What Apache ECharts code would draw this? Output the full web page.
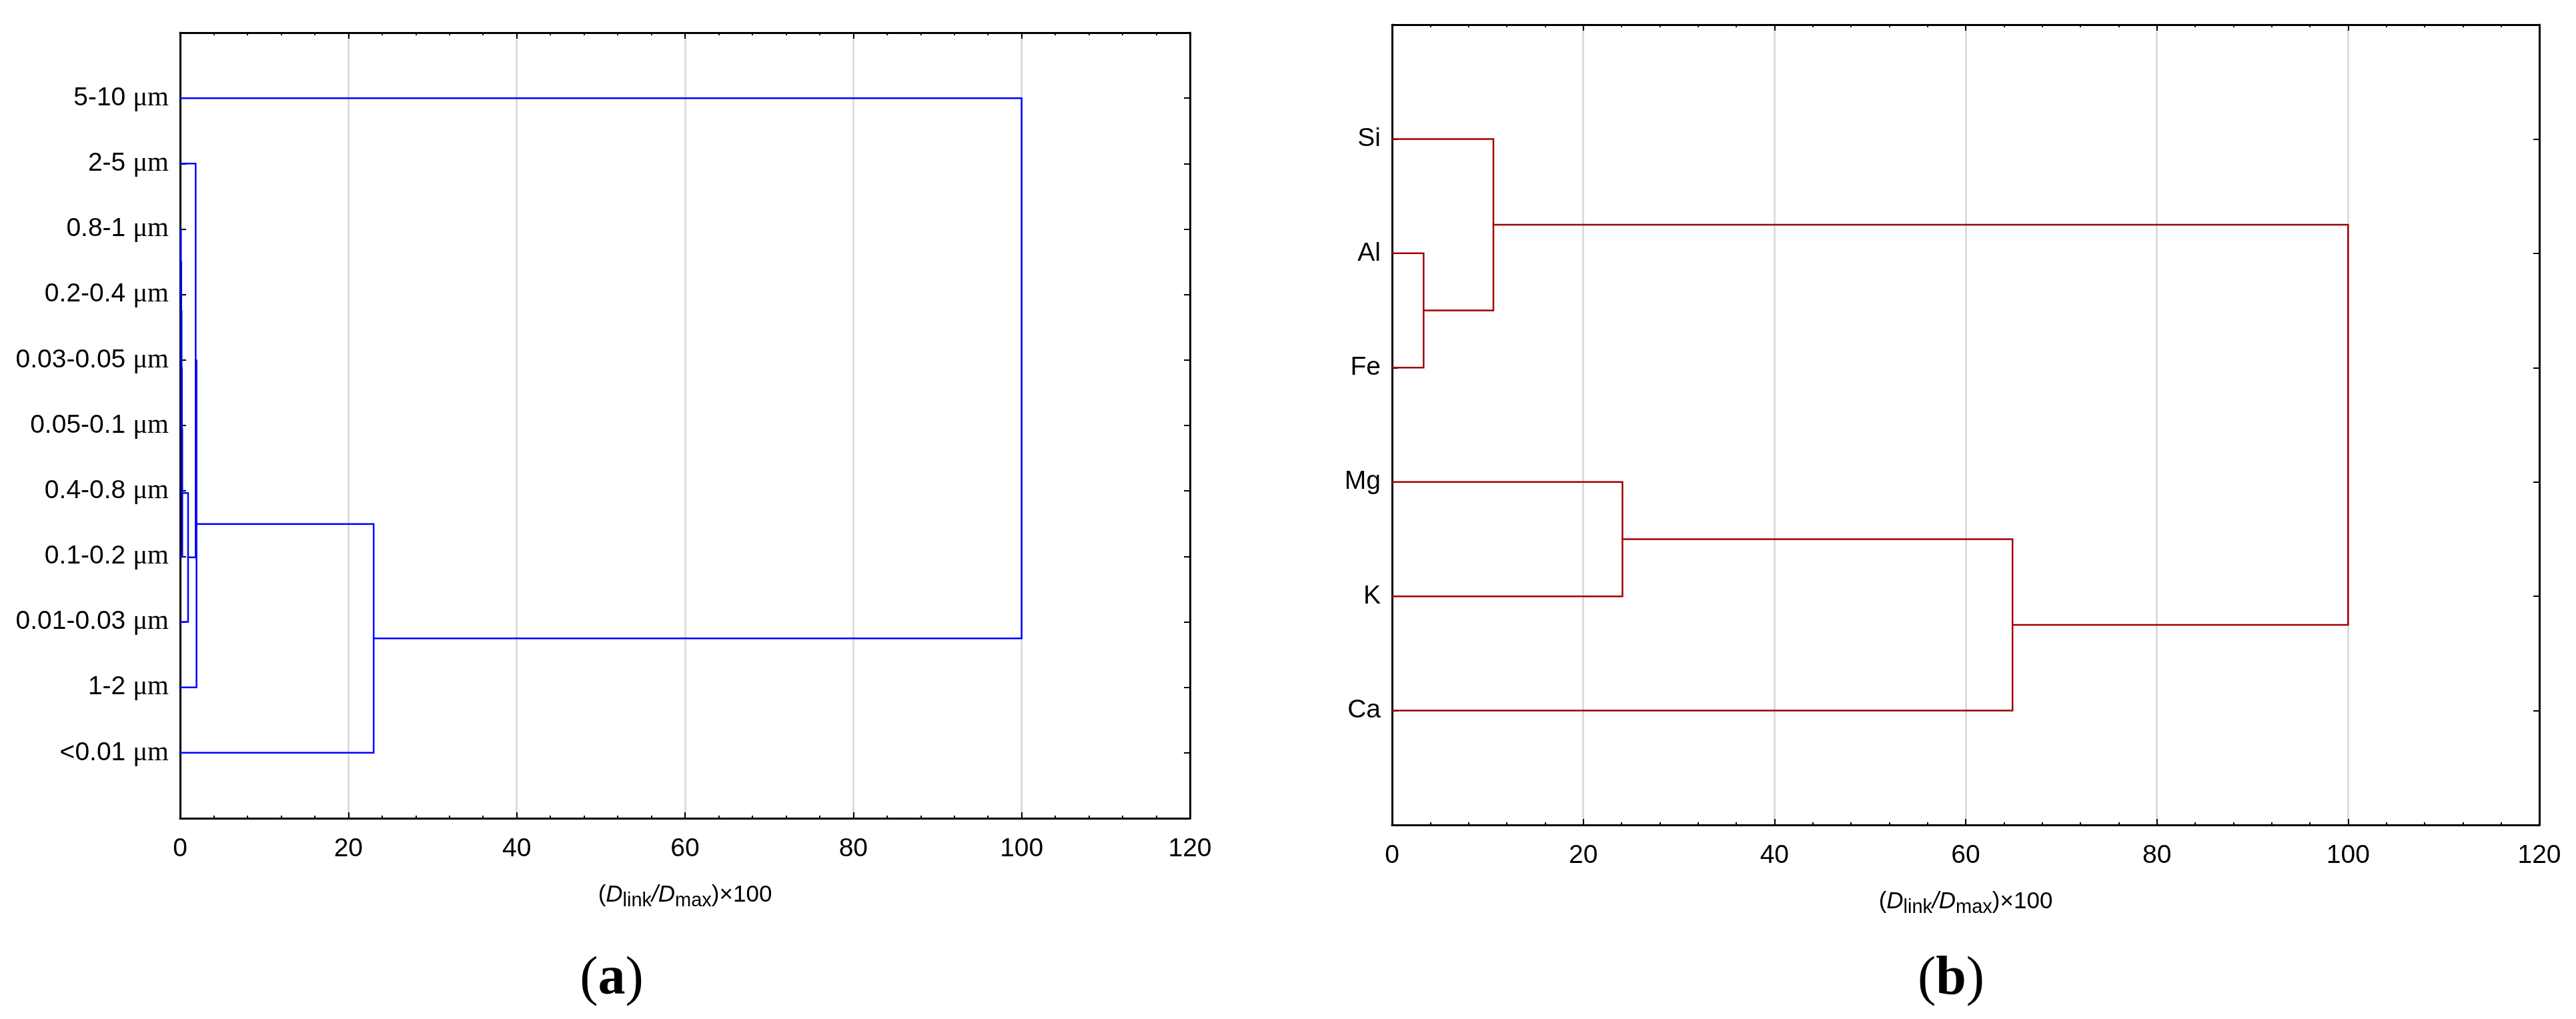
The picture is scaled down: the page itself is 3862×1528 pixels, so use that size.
<!DOCTYPE html>
<html>
<head>
<meta charset="utf-8">
<script src="https://cdn.jsdelivr.net/npm/echarts@6/dist/echarts.min.js"></script>
<style>
html,body{margin:0;padding:0;background:#fff;}
#c{width:3862px;height:1528px;}
</style>
</head>
<body>
<div id="c"></div>
<script>
// ---------- DATA ----------
// Panel (a): leaves from top to bottom
const catsA = ['5-10 μm','2-5 μm','0.8-1 μm','0.2-0.4 μm','0.03-0.05 μm','0.05-0.1 μm','0.4-0.8 μm','0.1-0.2 μm','0.01-0.03 μm','1-2 μm','<0.01 μm'];
// merges: [child, child, linkage distance]; '#k' refers to k-th merge
const mergesA = [
  ['0.8-1 μm', '0.2-0.4 μm', 0.10],
  ['#0', '0.03-0.05 μm', 0.14],
  ['#1', '0.05-0.1 μm', 0.18],
  ['#2', '0.4-0.8 μm', 0.22],
  ['#3', '0.1-0.2 μm', 0.26],
  ['#4', '0.01-0.03 μm', 0.95],
  ['2-5 μm', '#5', 1.85],
  ['#6', '1-2 μm', 1.95],
  ['#7', '<0.01 μm', 23.0],
  ['5-10 μm', '#8', 100.0]
];
// Panel (b)
const catsB = ['Si','Al','Fe','Mg','K','Ca'];
const mergesB = [
  ['Al', 'Fe', 3.3],
  ['Si', '#0', 10.6],
  ['Mg', 'K', 24.1],
  ['#2', 'Ca', 64.9],
  ['#1', '#3', 100.0]
];
const xTicks = [0, 20, 40, 60, 80, 100, 120];
const axisTitleParts = ['(', 'D', 'link', '/', 'D', 'max', ')×100'];

// ---------- BUILD ----------
function buildSegments(cats, merges) {
  const nodes = {};
  cats.forEach((c, i) => { nodes[c] = {y: i, h: 0}; });
  const segs = [];
  merges.forEach((m, k) => {
    const a = nodes[m[0]], b = nodes[m[1]], h = m[2];
    segs.push([[a.h, a.y], [h, a.y], [h, b.y], [b.h, b.y]]);
    nodes['#' + k] = {y: (a.y + b.y) / 2, h: h};
  });
  return segs;
}
const segA = buildSegments(catsA, mergesA);
const segB = buildSegments(catsB, mergesB);

const SANS = '"Liberation Sans", Arial, sans-serif';
const SERIF = '"Liberation Serif", "Times New Roman", serif';

function unitLabel(name) {
  const i = name.lastIndexOf(' ');
  return '{n|' + name.slice(0, i + 1) + '}{u|' + name.slice(i + 1) + '}';
}

const nameRich = {
  p: {fontFamily: SANS, fontSize: 35, color: '#000', lineHeight: 46, verticalAlign: 'middle'},
  d: {fontFamily: SANS, fontStyle: 'italic', fontSize: 35, color: '#000', lineHeight: 46, verticalAlign: 'middle'},
  s: {fontFamily: SANS, fontSize: 29, color: '#000', lineHeight: 29, verticalAlign: 'bottom'}
};
const axisTitle = '{p|' + axisTitleParts[0] + '}{d|' + axisTitleParts[1] + '}{s|' + axisTitleParts[2] + '}{d|' +
  axisTitleParts[3] + axisTitleParts[4] + '}{s|' + axisTitleParts[5] + '}{p|' + axisTitleParts[6] + '}';

function xAxes(gridIndex) {
  const common = {
    type: 'value', gridIndex: gridIndex, min: xTicks[0], max: xTicks[xTicks.length - 1],
    interval: xTicks[1] - xTicks[0],
    axisLine: {show: true, onZero: false, lineStyle: {color: '#000', width: 3}},
    axisTick: {show: true, inside: true, length: 9, lineStyle: {color: '#000', width: 2}},
    minorTick: {show: true, splitNumber: 5, length: 4, lineStyle: {color: '#000', width: 2}}
  };
  return [
    Object.assign({}, common, {
      position: 'bottom',
      axisLabel: {show: true, fontFamily: SANS, fontSize: 39, color: '#000', margin: 27},
      splitLine: {show: true, lineStyle: {color: '#d6d6d6', width: 2.5}},
      name: axisTitle, nameLocation: 'middle', nameGap: 92,
      nameTextStyle: {rich: nameRich}
    }),
    Object.assign({}, common, {
      position: 'top',
      axisLabel: {show: false},
      splitLine: {show: false}
    })
  ];
}

function yAxes(gridIndex, cats, rich) {
  const common = {
    type: 'value', gridIndex: gridIndex, min: -1, max: cats.length, interval: 1, inverse: true,
    axisLine: {show: true, onZero: false, lineStyle: {color: '#000', width: 3}},
    axisTick: {show: true, inside: true, length: 9, lineStyle: {color: '#000', width: 2}},
    splitLine: {show: false}
  };
  return [
    Object.assign({}, common, {
      position: 'left',
      axisLabel: {
        show: true, margin: 17, color: '#000', fontFamily: SANS, fontSize: 39,
        formatter: function (v) {
          const i = Math.round(v);
          if (i < 0 || i >= cats.length) return '';
          return rich ? unitLabel(cats[i]) : cats[i];
        },
        rich: rich ? {
          n: {fontFamily: SANS, fontSize: 39, color: '#000'},
          u: {fontFamily: SERIF, fontSize: 41, color: '#000'}
        } : undefined
      }
    }),
    Object.assign({}, common, {position: 'right', axisLabel: {show: false}})
  ];
}

const xa = xAxes(0), xb = xAxes(1);
const ya = yAxes(0, catsA, true), yb = yAxes(1, catsB, false);

function linesSeries(segs, xi, yi, color) {
  return {
    type: 'lines', coordinateSystem: 'cartesian2d', xAxisIndex: xi, yAxisIndex: yi,
    polyline: true, silent: true, z: 5,
    lineStyle: {color: color, width: 2.5, opacity: 1, cap: 'square', join: 'miter'},
    data: segs.map(c => ({coords: c}))
  };
}

const capRich = {
  p: {fontFamily: SERIF, fontSize: 82, color: '#000'},
  b: {fontFamily: SERIF, fontSize: 82, fontWeight: 'bold', color: '#000'}
};

const chart = echarts.init(document.getElementById('c'), null, {renderer: 'canvas'});
chart.setOption({
  animation: false,
  backgroundColor: '#fff',
  grid: [
    {left: 270, top: 49, width: 1514, height: 1178, containLabel: false},
    {left: 2087, top: 37, width: 1720, height: 1200, containLabel: false}
  ],
  xAxis: [xa[0], xa[1], xb[0], xb[1]],
  yAxis: [ya[0], ya[1], yb[0], yb[1]],
  series: [
    linesSeries(segA, 0, 0, '#0000ff'),
    linesSeries(segB, 2, 2, '#a00000')
  ],
  graphic: [
    {type: 'text', x: 917, y: 1469, style: {text: '{p|(}{b|a}{p|)}', rich: capRich, align: 'center', verticalAlign: 'middle'}},
    {type: 'text', x: 2925, y: 1469, style: {text: '{p|(}{b|b}{p|)}', rich: capRich, align: 'center', verticalAlign: 'middle'}}
  ]
});
</script>
</body>
</html>
